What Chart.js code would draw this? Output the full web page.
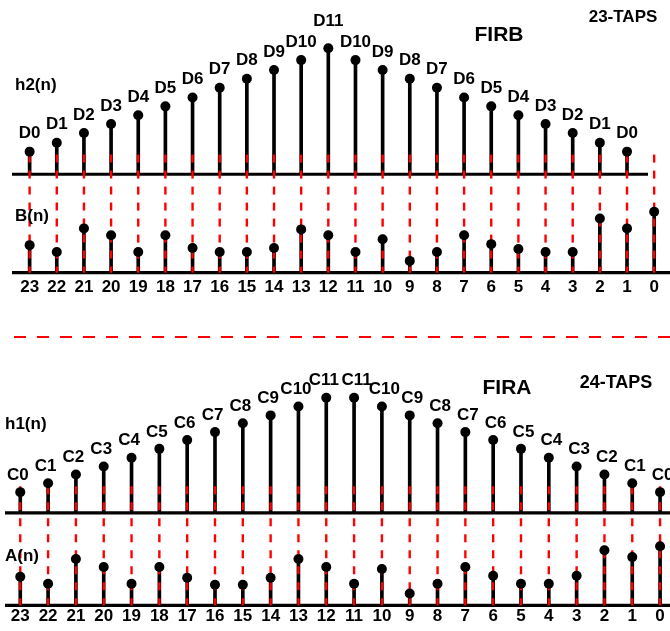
<!DOCTYPE html>
<html><head><meta charset="utf-8">
<script src="https://cdn.jsdelivr.net/npm/chart.js@4/dist/chart.umd.min.js"></script>
<style>html,body{margin:0;padding:0;background:#fff;overflow:hidden}canvas{display:block}</style>
</head><body>
<canvas id="c" width="670" height="631"></canvas>
<script>
// ---- data (heights, in drawing units) ----
const tapLabels = ['23','22','21','20','19','18','17','16','15','14','13','12','11','10','9','8','7','6','5','4','3','2','1','0'];
const firbNames = ['D0','D1','D2','D3','D4','D5','D6','D7','D8','D9','D10','D11','D10','D9','D8','D7','D6','D5','D4','D3','D2','D1','D0'];
const firbH2 = [23,32,42,51,60,69,78,88,97,106,116,128,116,106,97,88,78,69,60,51,42,32,23];
const firbB  = [28,21,45,38,21,38,25,21,21,25,44,38,21,34,12,21,38,29,24,21,21,55,45,62];
const firaNames = ['C0','C1','C2','C3','C4','C5','C6','C7','C8','C9','C10','C11','C11','C10','C9','C8','C7','C6','C5','C4','C3','C2','C1','C0'];
const firaH1 = [21,30,39,47,56,65,74,82,91,99,108,117,117,108,99,91,82,74,65,56,47,39,30,21];
const firaA  = [29,22,47,39,22,39,28,21,21,28,47,39,22,37,12,22,39,30,22,22,30,56,49,60];

const pts = arr => arr.map((v,i)=>({x:i,y:v}));
const FONT = '"Liberation Sans", Arial, sans-serif';
const RED = '#ff0000';

function bar(data, xId, yId){
  return {type:'bar', data:pts(data), xAxisID:xId, yAxisID:yId, backgroundColor:'#000',
    barThickness:3, grouped:false, order:2, borderWidth:0};
}
function dots(data, xId, yId, names, gap, spread){
  return {type:'line', data:pts(data), xAxisID:xId, yAxisID:yId, showLine:false,
    pointRadius:5, pointBackgroundColor:'#000', pointBorderWidth:0, order:1,
    names:names, labelGap:gap, labelSpread:spread||0};
}

const panels = [
  {hx:'xT', hy:'yH2', by:'yB', redFrom:20, hLine:[12,648], bLine:[12,670], tickDy:15, peakGap:27},
  {hx:'xB', hy:'yH1', by:'yA', redFrom:27, hLine:[5,670], bLine:[5,670], tickDy:11, peakGap:0}
];
const texts = [
  {t:'h2(n)', x:15, y:85, size:17, align:'left'},
  {t:'B(n)', x:15, y:216, size:17, align:'left'},
  {t:'FIRB', x:499, y:35, size:21, align:'center'},
  {t:'23-TAPS', x:623, y:17, size:17, align:'center'},
  {t:'h1(n)', x:5, y:424, size:17, align:'left'},
  {t:'A(n)', x:5, y:556, size:17, align:'left'},
  {t:'FIRA', x:507, y:388, size:21, align:'center'},
  {t:'24-TAPS', x:616, y:383, size:18, align:'center'}
];
const separator = {y:337, x0:14, x1:670, dash:[12,11]};

let barsDrawn = 0;
const deco = {
  id:'deco',
  beforeDatasetsDraw(chart){
    barsDrawn = 0;
    const ctx = chart.ctx;
    ctx.save();
    ctx.strokeStyle = '#000'; ctx.lineWidth = 3.2;
    panels.forEach(p=>{
      [[p.hy,p.hLine],[p.by,p.bLine]].forEach(([yid,ext])=>{
        const y = chart.scales[yid].getPixelForValue(0);
        ctx.beginPath(); ctx.moveTo(ext[0],y); ctx.lineTo(ext[1],y); ctx.stroke();
      });
    });
    ctx.restore();
  },
  afterDatasetDraw(chart,args){
    if(args.meta.type!=='bar') return;
    barsDrawn++;
    if(barsDrawn!==4) return;
    const ctx = chart.ctx;
    ctx.save();
    ctx.strokeStyle = RED; ctx.lineWidth = 2.4; ctx.setLineDash([8,8]);
    panels.forEach(p=>{
      const xs = chart.scales[p.hx];
      const y1 = chart.scales[p.hy].getPixelForValue(p.redFrom);
      const y2 = chart.scales[p.by].getPixelForValue(0);
      tapLabels.forEach((_,i)=>{
        const x = xs.getPixelForValue(i);
        ctx.beginPath(); ctx.moveTo(x,y1); ctx.lineTo(x,y2); ctx.stroke();
      });
    });
    ctx.restore();
  },
  afterDatasetsDraw(chart){
    const ctx = chart.ctx;
    ctx.save();
    ctx.fillStyle = '#000';
    ctx.textBaseline = 'middle';
    ctx.textAlign = 'center';
    ctx.font = 'bold 17px '+FONT;
    chart.data.datasets.forEach((ds,di)=>{
      if(!ds.names) return;
      const meta = chart.getDatasetMeta(di);
      const max = Math.max(...ds.data.map(d=>d.y));
      const peak = ds.xAxisID==='xT' ? panels[0].peakGap : 0;
      const mid = (ds.data.length-1)/2;
      meta.data.forEach((el,i)=>{
        const gap = (peak && ds.data[i].y===max) ? peak : ds.labelGap;
        const dx = ds.labelSpread * Math.sign(i-mid);
        ctx.fillText(ds.names[i], el.x+dx, el.y-gap);
      });
    });
    panels.forEach(p=>{
      const xs = chart.scales[p.hx];
      const y = chart.scales[p.by].getPixelForValue(0)+p.tickDy;
      tapLabels.forEach((t,i)=>ctx.fillText(t, xs.getPixelForValue(i), y));
    });
    texts.forEach(o=>{
      ctx.font = 'bold '+o.size+'px '+FONT;
      ctx.textAlign = o.align;
      ctx.fillText(o.t, o.x, o.y);
    });
    ctx.strokeStyle = RED; ctx.lineWidth = 2; ctx.setLineDash(separator.dash);
    ctx.beginPath(); ctx.moveTo(separator.x0,separator.y); ctx.lineTo(separator.x1,separator.y); ctx.stroke();
    ctx.restore();
  }
};

function yAxis(baseline){ return {type:'linear', display:false, min:baseline-631, max:baseline}; }
function xAxis(first,last){
  const step = (last-first)/23;
  return {type:'linear', display:false, offset:false, min:-first/step, max:(670-first)/step};
}

new Chart(document.getElementById('c'), {
  type:'bar',
  data:{datasets:[
    bar(firbH2,'xT','yH2'), bar(firbB,'xT','yB'), bar(firaH1,'xB','yH1'), bar(firaA,'xB','yA'),
    dots(firbH2,'xT','yH2',firbNames,18), dots(firbB,'xT','yB',null,0),
    dots(firaH1,'xB','yH1',firaNames,17,2.5), dots(firaA,'xB','yA',null,0)
  ]},
  options:{
    responsive:false, animation:false, events:[],
    layout:{padding:0},
    plugins:{legend:{display:false}, tooltip:{enabled:false}},
    scales:{
      xT:xAxis(25,659), xB:xAxis(15.5,665),
      yH2:yAxis(172), yB:yAxis(272), yH1:yAxis(516), yA:yAxis(610)
    }
  },
  plugins:[deco]
});
</script>
</body></html>
